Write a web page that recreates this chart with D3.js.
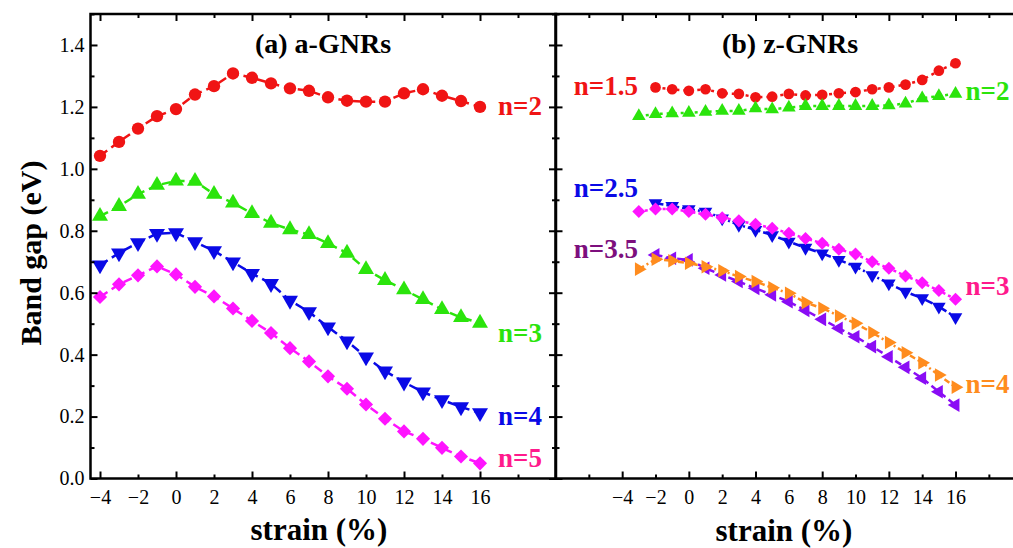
<!DOCTYPE html>
<html>
<head>
<meta charset="utf-8">
<script src="https://cdn.jsdelivr.net/npm/d3@7"></script>
<style>
body { margin: 0; background: #fff; }
svg text { font-family: "Liberation Serif", "DejaVu Serif", "Times New Roman", Times, serif !important; }
</style>
</head>
<body>
<script>
// band gap vs strain for armchair (a) and zigzag (z) GNRs

// strain (%) for each series
var strainA = [-4, -3, -2, -1, 0, 1, 2, 3, 4, 5, 6, 7, 8, 9, 10, 11, 12, 13, 14, 15, 16];
var strainZfrom3 = [-3, -2, -1, 0, 1, 2, 3, 4, 5, 6, 7, 8, 9, 10, 11, 12, 13, 14, 15, 16];
var strainZfrom2 = [-2, -1, 0, 1, 2, 3, 4, 5, 6, 7, 8, 9, 10, 11, 12, 13, 14, 15, 16];

// (a) a-GNRs band gaps (eV)
var gapA2 = [1.042, 1.087, 1.130, 1.170, 1.193, 1.240, 1.267, 1.308, 1.294, 1.276, 1.260,
             1.252, 1.231, 1.220, 1.217, 1.217, 1.244, 1.257, 1.236, 1.219, 1.200];
var gapA3 = [0.847, 0.879, 0.918, 0.947, 0.961, 0.960, 0.918, 0.890, 0.856, 0.825, 0.804,
             0.788, 0.759, 0.728, 0.675, 0.640, 0.610, 0.578, 0.546, 0.520, 0.502];
var gapA4 = [0.689, 0.728, 0.761, 0.791, 0.793, 0.764, 0.735, 0.699, 0.662, 0.629, 0.575,
             0.538, 0.489, 0.444, 0.392, 0.347, 0.311, 0.279, 0.254, 0.231, 0.212];
var gapA5 = [0.586, 0.627, 0.656, 0.685, 0.659, 0.619, 0.588, 0.549, 0.509, 0.470, 0.421,
             0.378, 0.330, 0.290, 0.239, 0.193, 0.152, 0.128, 0.099, 0.071, 0.049];

// (b) z-GNRs band gaps (eV)
var gapZ15 = [1.263, 1.257, 1.252, 1.257, 1.244, 1.242, 1.231, 1.233, 1.242, 1.237,
              1.239, 1.244, 1.248, 1.257, 1.263, 1.272, 1.287, 1.317, 1.341];
var gapZ2 = [1.170, 1.177, 1.179, 1.181, 1.184, 1.187, 1.187, 1.195, 1.192, 1.198,
             1.203, 1.203, 1.203, 1.203, 1.203, 1.205, 1.211, 1.228, 1.235, 1.242];
var gapZ25 = [0.889, 0.880, 0.870, 0.862, 0.840, 0.819, 0.803, 0.786, 0.765, 0.745,
              0.727, 0.706, 0.684, 0.657, 0.630, 0.603, 0.582, 0.555, 0.521];
var gapZ3 = [0.862, 0.870, 0.870, 0.862, 0.853, 0.842, 0.832, 0.821, 0.808, 0.792,
             0.775, 0.760, 0.740, 0.725, 0.700, 0.679, 0.654, 0.632, 0.607, 0.579];
var gapZ35 = [0.722, 0.711, 0.706, 0.679, 0.657, 0.636, 0.614, 0.593, 0.571, 0.543,
              0.514, 0.485, 0.458, 0.426, 0.393, 0.359, 0.324, 0.280, 0.237];
var gapZ4 = [0.676, 0.708, 0.703, 0.695, 0.684, 0.671, 0.652, 0.636, 0.616, 0.598,
             0.568, 0.550, 0.525, 0.501, 0.471, 0.439, 0.406, 0.374, 0.334, 0.295];

// tick values
var xTickLabels = [-4, -2, 0, 2, 4, 6, 8, 10, 12, 14, 16];
var xMajor = [-4, 0, 4, 8, 12, 16];
var xMinor = [-6, -2, 2, 6, 10, 14, 18];
var yTickLabels = [0, 0.2, 0.4, 0.6, 0.8, 1.0, 1.2, 1.4];
var yMinor = [0.1, 0.3, 0.5, 0.7, 0.9, 1.1, 1.3, 1.5];

var serif = "'Liberation Serif', 'DejaVu Serif', 'Times New Roman', Times, serif";

var w = 1013,
    h = 548;

var svg = d3.select("body")
    .append("svg")
    .attr("width", w)
    .attr("height", h)
    .attr("font-family", serif);

// scales
var y = d3.scaleLinear().domain([0, 1.5]).range([478.5, 14]);
var xA = d3.scaleLinear().domain([-4.5, 20]).range([90.5, 556]);
var xZ = d3.scaleLinear().domain([-8, 20]).range([555.5, 1022.2]);

// series definitions
var seriesA = [
    {x: strainA, v: gapA2, color: "#f01414", sym: "circle", dash: "9,5"},
    {x: strainA, v: gapA3, color: "#2be40c", sym: "up", dash: "9,5"},
    {x: strainA, v: gapA4, color: "#0a0ae6", sym: "down", dash: "9,5"},
    {x: strainA, v: gapA5, color: "#ff14ff", sym: "diamond", dash: "9,5"}
];
var seriesZ = [
    {x: strainZfrom2, v: gapZ15, color: "#f01414", sym: "circle", dash: "3,4"},
    {x: strainZfrom3, v: gapZ2, color: "#2be40c", sym: "up", dash: "3,4"},
    {x: strainZfrom2, v: gapZ25, color: "#0a0ae6", sym: "down", dash: "8,3,2,3"},
    {x: strainZfrom3, v: gapZ3, color: "#ff14ff", sym: "diamond", dash: "3,3"},
    {x: strainZfrom2, v: gapZ35, color: "#8a0cf5", sym: "left", dash: "7,4"},
    {x: strainZfrom3, v: gapZ4, color: "#ff8c1e", sym: "right", dash: "6,3,2,3"}
];

// curve labels
var labelsA = [
    {t: "n=2", s: 16, v: 1.174, color: "#f01414"},
    {t: "n=3", s: 16, v: 0.441, color: "#2be40c"},
    {t: "n=4", s: 16, v: 0.173, color: "#0a0ae6"},
    {t: "n=5", s: 16, v: 0.037, color: "#ff1a8c"}
];
var labelsZ = [
    {t: "n=1.5", s: -6.9, v: 1.239, color: "#f01414"},
    {t: "n=2", s: 16.6, v: 1.222, color: "#2be40c"},
    {t: "n=2.5", s: -6.9, v: 0.909, color: "#0a0ae6"},
    {t: "n=3", s: 16.6, v: 0.593, color: "#ff1a8c"},
    {t: "n=3.5", s: -6.9, v: 0.712, color: "#7d0f7d"},
    {t: "n=4", s: 16.6, v: 0.276, color: "#ff8c1e"}
];

function symbolPath(sym, big) {
    var type = d3.symbolCircle, size = big ? 120 : 90;
    if (sym === "diamond") { type = d3.symbolSquare; size = big ? 100 : 85; }
    if (sym !== "circle" && sym !== "diamond") { type = d3.symbolTriangle; size = big ? 110 : 80; }
    return d3.symbol().type(type).size(size)();
}
var rot = {circle: 0, diamond: 45, up: 0, down: 180, left: -90, right: 90};

function drawPanel(g, x, series, labels, big) {
    var clipId = "clip" + Math.round(x.range()[0]);
    g.append("clipPath").attr("id", clipId)
        .append("rect")
        .attr("x", x.range()[0]).attr("y", y.range()[1])
        .attr("width", x.range()[1] - x.range()[0])
        .attr("height", y.range()[0] - y.range()[1]);

    var plot = g.append("g").attr("clip-path", "url(#" + clipId + ")");

    series.forEach(function(s) {
        var pts = s.x.map(function(d, i) { return [d, s.v[i]]; });
        var line = d3.line()
            .x(function(d) { return x(d[0]); })
            .y(function(d) { return y(d[1]); });
        plot.append("path")
            .datum(pts)
            .attr("d", line)
            .attr("fill", "none")
            .attr("stroke", s.color)
            .attr("stroke-width", 2.5)
            .attr("stroke-dasharray", s.dash);
        plot.selectAll(null)
            .data(pts)
            .enter()
            .append("path")
            .attr("d", symbolPath(s.sym, big))
            .attr("transform", function(d) {
                return "translate(" + x(d[0]) + "," + y(d[1]) + ") rotate(" + rot[s.sym] + ")";
            })
            .attr("fill", s.color);
    });

    g.selectAll(null)
        .data(labels)
        .enter()
        .append("text")
        .attr("x", function(d) { return x(d.s) + (big ? 18 : 0); })
        .attr("y", function(d) { return y(d.v); })
        .attr("font-size", 27)
        .attr("font-weight", "bold")
        .attr("font-family", serif)
        .attr("fill", function(d) { return d.color; })
        .text(function(d) { return d.t; });
}

// inward tick marks on all four sides of a panel
function drawTicks(g, x) {
    var xd = x.domain();
    var inX = function(v) { return v >= xd[0] && v <= xd[1]; };
    var sets = [[xMajor, 7], [xMinor, 4]];
    sets.forEach(function(p) {
        g.append("g")
            .attr("transform", "translate(0," + y.range()[0] + ")")
            .call(d3.axisBottom(x).tickValues(p[0].filter(inX)).tickSize(-p[1]).tickFormat(""));
        g.append("g")
            .attr("transform", "translate(0," + y.range()[1] + ")")
            .call(d3.axisTop(x).tickValues(p[0].filter(inX)).tickSize(-p[1]).tickFormat(""));
    });
    var ySets = [[yTickLabels, 7], [yMinor, 4]];
    ySets.forEach(function(p) {
        g.append("g")
            .attr("transform", "translate(" + x.range()[0] + ",0)")
            .call(d3.axisLeft(y).tickValues(p[0]).tickSize(-p[1]).tickFormat(""));
        g.append("g")
            .attr("transform", "translate(" + x.range()[1] + ",0)")
            .call(d3.axisRight(y).tickValues(p[0]).tickSize(-p[1]).tickFormat(""));
    });
    g.selectAll(".domain").remove();
    g.selectAll(".tick line").attr("stroke", "#000").attr("stroke-width", 2);

    // x tick labels
    var lab = g.append("g")
        .attr("transform", "translate(0," + y.range()[0] + ")")
        .call(d3.axisBottom(x).tickValues(xTickLabels).tickSize(0).tickPadding(11));
    lab.attr("font-family", serif);
    lab.select(".domain").remove();
    lab.selectAll("text").attr("font-size", 20).attr("font-family", serif).attr("fill", "#000");

    // frame
    g.append("rect")
        .attr("x", x.range()[0]).attr("y", y.range()[1])
        .attr("width", x.range()[1] - x.range()[0])
        .attr("height", y.range()[0] - y.range()[1])
        .attr("fill", "none")
        .attr("stroke", "#000")
        .attr("stroke-width", 2.5);
}

var panelA = svg.append("g");
var panelZ = svg.append("g");

drawPanel(panelA, xA, seriesA, labelsA, true);
drawPanel(panelZ, xZ, seriesZ, labelsZ, false);
drawTicks(panelA, xA);
drawTicks(panelZ, xZ);

// y tick labels (left panel only)
var yLab = svg.append("g")
    .attr("transform", "translate(" + xA.range()[0] + ",0)")
    .call(d3.axisLeft(y).tickValues(yTickLabels).tickSize(0).tickPadding(6).tickFormat(d3.format(".1f")));
yLab.attr("font-family", serif);
yLab.select(".domain").remove();
yLab.selectAll("text").attr("font-size", 20).attr("font-family", serif).attr("fill", "#000");

// panel titles
svg.append("text")
    .attr("x", 323).attr("y", 53)
    .attr("text-anchor", "middle")
    .attr("font-size", 28).attr("font-weight", "bold")
    .text("(a) a-GNRs");
svg.append("text")
    .attr("x", 790).attr("y", 53)
    .attr("text-anchor", "middle")
    .attr("font-size", 28).attr("font-weight", "bold")
    .text("(b) z-GNRs");

// axis titles
svg.append("text")
    .attr("transform", "translate(41,253) rotate(-90)")
    .attr("text-anchor", "middle")
    .attr("font-size", 30).attr("font-weight", "bold")
    .text("Band gap (eV)");
svg.append("text")
    .attr("x", 319).attr("y", 540)
    .attr("text-anchor", "middle")
    .attr("font-size", 31).attr("font-weight", "bold")
    .text("strain (%)");
svg.append("text")
    .attr("x", 784).attr("y", 541)
    .attr("text-anchor", "middle")
    .attr("font-size", 31).attr("font-weight", "bold")
    .text("strain (%)");
</script>
</body>
</html>
